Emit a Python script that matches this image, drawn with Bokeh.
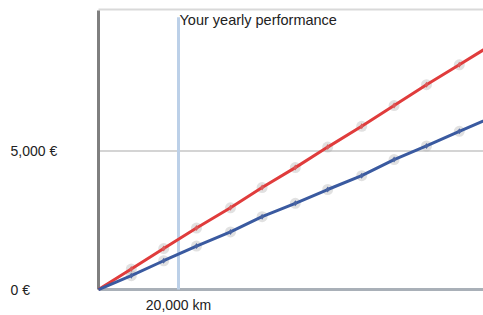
from bokeh.plotting import figure
from bokeh.models import Range1d, FixedTicker, Label, CustomJSTickFormatter
from bokeh.embed import file_html
from bokeh.resources import INLINE

# Data (distance in km, cumulative cost in EUR)
km = [0, 8200, 16300, 24500, 33000, 40900, 49200, 57300, 65800, 73900, 82000, 90200, 98500]
red_cost = [0, 740, 1480, 2220, 2950, 3680, 4400, 5140, 5890, 6640, 7390, 8110, 8850]
blue_cost = [0, 500, 1040, 1570, 2080, 2630, 3110, 3610, 4110, 4690, 5180, 5710, 6230]
marker_km = km[1:12]
marker_red = red_cost[1:12]
marker_blue = blue_cost[1:12]
yearly_km = 20000
y_ticks = [0, 5000]
y_tick_labels = ["0 €", "5,000 €"]
x_tick_label = "20,000 km"
annotation = "Your yearly performance"

FONT = "Liberation Sans"
TXT = "#222222"
X_START, X_END = -24500, 96250
Y_TOP_BORDER = 10107

p = figure(width=483, height=315, output_backend="svg", toolbar_location=None,
           x_range=Range1d(X_START, X_END), y_range=Range1d(-214, 10429),
           min_border_left=0, min_border_right=0, min_border_top=0, min_border_bottom=17)
p.outline_line_color = None
p.background_fill_color = "white"
p.border_fill_color = "white"
p.yaxis.visible = False
p.xgrid.grid_line_color = None
p.ygrid.grid_line_color = None

# x axis: only the yearly tick label
p.xaxis.ticker = FixedTicker(ticks=[yearly_km])
p.xaxis.formatter = CustomJSTickFormatter(code=f"return '{x_tick_label}';")
p.xaxis.major_label_text_font = FONT
p.xaxis.major_label_text_font_size = "14px"
p.xaxis.major_label_text_color = TXT
p.xaxis.major_label_standoff = 1
p.xaxis.major_tick_out = 0
p.xaxis.major_tick_in = 0
p.xaxis.minor_tick_out = 0
p.xaxis.minor_tick_in = 0
p.xaxis.axis_line_color = None

# frame lines: top border, 5000 grid line, bottom axis, left axis
p.segment(x0=[0], y0=[Y_TOP_BORDER], x1=[X_END], y1=[Y_TOP_BORDER], line_color="#d9d9d9", line_width=2)
p.segment(x0=[0], y0=[5000], x1=[X_END], y1=[5000], line_color="#d4d4d4", line_width=2)
p.segment(x0=[0], y0=[0], x1=[X_END], y1=[0], line_color="#a9b0b8", line_width=3)

# yearly performance line
p.segment(x0=[yearly_km], y0=[0], x1=[yearly_km], y1=[9821], line_color="#bcd0e8", line_width=3)

p.segment(x0=[0], y0=[0], x1=[0], y1=[10070], line_color="#7f7f7f", line_width=3)

# series
p.scatter(marker_km, marker_red, size=11, fill_color="#a8a8a8", fill_alpha=0.35, line_color=None)
p.scatter(marker_km, marker_blue, size=11, fill_color="#a8a8a8", fill_alpha=0.35, line_color=None)
p.line(km, red_cost, line_color="#e03c3c", line_width=3)
p.line(km, blue_cost, line_color="#3a5aa0", line_width=3)
p.scatter(marker_km, marker_red, size=6, marker="diamond", fill_color="#d85a5a", line_color=None)
p.scatter(marker_km, marker_blue, size=6, marker="diamond", fill_color="#4a64a0", line_color=None)

# texts
p.add_layout(Label(x=yearly_km, y=10000, text=annotation, text_font=FONT, text_font_size="14.5px",
                   text_color=TXT, text_baseline="top", text_align="left", x_offset=1))
for v, t in zip(y_ticks, y_tick_labels):
    p.add_layout(Label(x=-22000, y=v, text=t, text_font=FONT, text_font_size="14px",
                       text_color=TXT, text_baseline="middle", text_align="left"))

open("out.html", "w").write(file_html(p, INLINE))
